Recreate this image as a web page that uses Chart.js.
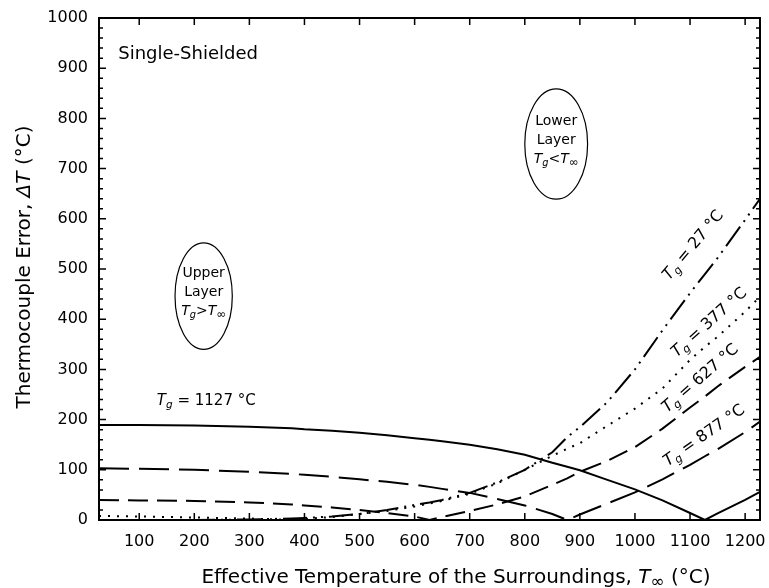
<!DOCTYPE html>
<html>
<head>
<meta charset="utf-8">
<title>Thermocouple Error - Single-Shielded</title>
<script src="https://cdn.jsdelivr.net/npm/chart.js@4"></script>
<style>
  html, body { margin: 0; padding: 0; background: #fff; }
  canvas { display: block; }
</style>
</head>
<body>
<canvas id="errChart" width="769" height="588"></canvas>
<script>
// surrounding temperature T_inf (deg C), shared by all curves
const temps = [27, 100, 200, 300, 377, 400, 450, 500, 550, 600, 627, 650, 700, 750,
               800, 850, 877, 900, 950, 1000, 1050, 1100, 1127, 1150, 1200, 1227];

// thermocouple error dT for each gas temperature Tg
const err1127 = [189, 189, 188, 186, 183, 181, 178, 174, 169, 163, 160, 157, 150, 141,
                 130, 114, 106, 99, 80, 61, 39, 14, 0, 13, 40, 56];
const err877  = [103, 102, 100, 96, 92, 90, 86, 81, 76, 70, 66, 62, 54, 42,
                 29, 12, 0, 11, 33, 55, 81, 110, 127, 141, 175, 196];
const err627  = [40, 39, 38, 35, 31, 29, 25, 20, 14, 7, 0, 6, 18, 31,
                 47, 70, 83, 96, 118, 145, 182, 224, 246, 266, 305, 325];
const err377  = [8, 7, 5, 3, 0, 2, 6, 12, 18, 27, 33, 38, 52, 73,
                 100, 128, 142, 153, 188, 222, 262, 319, 345, 365, 415, 445];
const err27   = [0, 0, 0, 1, 3, 4, 7, 12, 20, 30, 35, 40, 54, 75,
                 100, 135, 165, 185, 235, 300, 378, 452, 490, 522, 598, 640];

const xTicks = [100, 200, 300, 400, 500, 600, 700, 800, 900, 1000, 1100, 1200];
const xMin = 27, xMax = 1227;
const yMin = 0, yMax = 1000, yStep = 100, yMinorStep = 20;

const FONT = '"DejaVu Sans", sans-serif';

function pts(vals) {
  return temps.map((t, i) => ({ x: t, y: vals[i] }));
}

// text pieces: plain, italic (it), subscript (sub = size factor)
function pieceFont(p, size) {
  const s = p.sub ? size * p.sub : size;
  return (p.it ? 'italic ' : '') + s + 'px ' + FONT;
}
function drawRich(ctx, parts, x, y, size, align) {
  let w = 0;
  parts.forEach(p => { ctx.font = pieceFont(p, size); w += ctx.measureText(p.t).width; });
  let cx = align === 'center' ? x - w / 2 : (align === 'right' ? x - w : x);
  ctx.textBaseline = 'alphabetic';
  ctx.textAlign = 'left';
  parts.forEach(p => {
    ctx.font = pieceFont(p, size);
    ctx.fillText(p.t, cx, p.sub ? y + size * 0.22 : y);
    cx += ctx.measureText(p.t).width;
  });
}
function tgLabel(val) {
  return [{ t: 'T', it: true }, { t: 'g', it: true, sub: 0.7 }, { t: ' = ' + val + ' °C' }];
}

// annotations in data coordinates
const curveLabels = [
  { x: 1105, y: 548, angle: -50, parts: tgLabel(27) },
  { x: 1134, y: 394, angle: -42, parts: tgLabel(377) },
  { x: 1118, y: 283, angle: -41, parts: tgLabel(627) },
  { x: 1125, y: 169, angle: -35, parts: tgLabel(877) }
];
const ovals = [
  { x: 217, y: 446, rx: 52, ry: 106,
    lines: [[{ t: 'Upper' }], [{ t: 'Layer' }],
            [{ t: 'T', it: true }, { t: 'g', it: true, sub: 0.7 }, { t: '>' }, { t: 'T', it: true }, { t: '∞', sub: 0.85 }]] },
  { x: 857, y: 749, rx: 57, ry: 110,
    lines: [[{ t: 'Lower' }], [{ t: 'Layer' }],
            [{ t: 'T', it: true }, { t: 'g', it: true, sub: 0.7 }, { t: '<' }, { t: 'T', it: true }, { t: '∞', sub: 0.85 }]] }
];

const framePlugin = {
  id: 'frame',
  afterDraw(chart) {
    const ctx = chart.ctx;
    const a = chart.chartArea;
    const xs = chart.scales.x, ys = chart.scales.y;
    ctx.save();
    ctx.strokeStyle = '#000';
    ctx.fillStyle = '#000';
    ctx.lineWidth = 2;
    ctx.strokeRect(a.left, a.top, a.right - a.left, a.bottom - a.top);

    // inward tick marks
    ctx.lineWidth = 1.5;
    ctx.beginPath();
    xTicks.forEach(v => {
      const px = xs.getPixelForValue(v);
      ctx.moveTo(px, a.bottom); ctx.lineTo(px, a.bottom - 7);
      ctx.moveTo(px, a.top); ctx.lineTo(px, a.top + 7);
    });
    for (let v = yMin; v <= yMax; v += yMinorStep) {
      const py = ys.getPixelForValue(v);
      const len = v % yStep === 0 ? 7 : 4;
      ctx.moveTo(a.left, py); ctx.lineTo(a.left + len, py);
      ctx.moveTo(a.right, py); ctx.lineTo(a.right - len, py);
    }
    ctx.stroke();

    // text annotations
    ctx.font = '18px ' + FONT;
    ctx.textAlign = 'left';
    ctx.textBaseline = 'middle';
    ctx.fillText('Single-Shielded', xs.getPixelForValue(62), ys.getPixelForValue(927));

    drawRich(ctx, tgLabel(1127), xs.getPixelForValue(132), ys.getPixelForValue(239) + 5, 15, 'left');

    curveLabels.forEach(l => {
      ctx.save();
      ctx.translate(xs.getPixelForValue(l.x), ys.getPixelForValue(l.y));
      ctx.rotate(l.angle * Math.PI / 180);
      drawRich(ctx, l.parts, 0, 5, 16, 'center');
      ctx.restore();
    });

    ovals.forEach(o => {
      const cx = xs.getPixelForValue(o.x), cy = ys.getPixelForValue(o.y);
      const rx = Math.abs(xs.getPixelForValue(o.x + o.rx) - cx);
      const ry = Math.abs(ys.getPixelForValue(o.y + o.ry) - cy);
      ctx.lineWidth = 1.2;
      ctx.beginPath();
      ctx.ellipse(cx, cy, rx, ry, 0, 0, Math.PI * 2);
      ctx.stroke();
      o.lines.forEach((ln, i) => {
        drawRich(ctx, ln, cx, cy - 19 + i * 19, 14, 'center');
      });
    });

    // axis titles
    drawRich(ctx, [{ t: 'Effective Temperature of the Surroundings, ' }, { t: 'T', it: true },
                   { t: '∞', sub: 0.85 }, { t: ' (°C)' }], 456, 583, 20, 'center');
    ctx.save();
    ctx.translate(30, 267);
    ctx.rotate(-Math.PI / 2);
    drawRich(ctx, [{ t: 'Thermocouple Error, ' }, { t: 'ΔT', it: true }, { t: ' (°C)' }], 0, 0, 20, 'center');
    ctx.restore();
    ctx.restore();
  }
};

const lineStyle = { borderColor: '#000', backgroundColor: 'transparent', borderWidth: 2,
                    pointRadius: 0, tension: 0, fill: false };

const ctx = document.getElementById('errChart').getContext('2d');
const errChart = new Chart(ctx, {
  type: 'line',
  data: {
    datasets: [
      { ...lineStyle, label: 'Tg = 1127 °C', data: pts(err1127), borderDash: [] },
      { ...lineStyle, label: 'Tg = 877 °C', data: pts(err877), borderDash: [30, 10] },
      { ...lineStyle, label: 'Tg = 627 °C', data: pts(err627), borderDash: [20, 9] },
      { ...lineStyle, label: 'Tg = 377 °C', data: pts(err377), borderDash: [2, 7] },
      { ...lineStyle, label: 'Tg = 27 °C', data: pts(err27), borderDash: [24, 6, 2, 6, 2, 6] }
    ]
  },
  options: {
    responsive: false,
    animation: false,
    layout: { padding: { top: 18, right: 9, left: 0, bottom: 0 } },
    scales: {
      x: {
        type: 'linear',
        min: xMin,
        max: xMax,
        afterBuildTicks: (scale) => { scale.ticks = xTicks.map(v => ({ value: v })); },
        afterFit: (scale) => { scale.height = 68; scale.paddingLeft = 0; scale.paddingRight = 0; },
        grid: { display: false, drawTicks: false },
        border: { display: false },
        ticks: { color: '#000', padding: 12, maxRotation: 0, font: { family: FONT, size: 16 },
                 callback: (v) => String(v) }
      },
      y: {
        min: yMin,
        max: yMax,
        afterFit: (scale) => { scale.width = 99; scale.paddingTop = 0; scale.paddingBottom = 0; },
        grid: { display: false, drawTicks: false },
        border: { display: false },
        ticks: { color: '#000', stepSize: yStep, padding: 11, font: { family: FONT, size: 16 },
                 callback: (v) => String(v) }
      }
    },
    plugins: {
      legend: { display: false },
      tooltip: { enabled: false }
    }
  },
  plugins: [framePlugin]
});
</script>
</body>
</html>
